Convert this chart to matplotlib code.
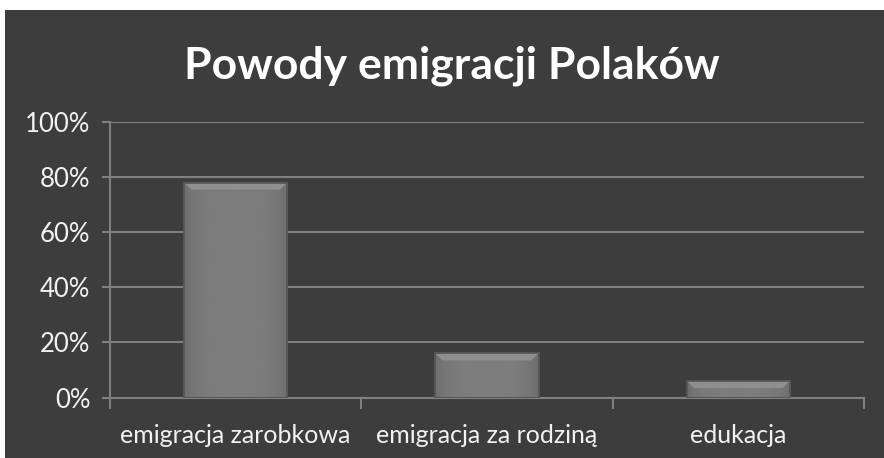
import matplotlib.pyplot as plt
import matplotlib.patches as patches
import numpy as np

# Data
categories = ['emigracja zarobkowa', 'emigracja za rodziną', 'edukacja']
shares = [78, 16, 6]
y_ticks = [0, 20, 40, 60, 80, 100]
y_labels = ['0%', '20%', '40%', '60%', '80%', '100%']

bg = '#3d3d3d'
grid_col = '#808080'
text_col = '#f2f2f2'
plt.rcParams['font.family'] = ['Lato', 'DejaVu Sans']

fig = plt.figure(figsize=(8.84, 4.58), dpi=100, facecolor=bg)
# white strips on top and left like the original screenshot
fig.patches.append(patches.Rectangle((0, 448 / 458), 1, 10 / 458, transform=fig.transFigure,
                                     facecolor='white', edgecolor='none'))
fig.patches.append(patches.Rectangle((0, 0), 5 / 884, 1, transform=fig.transFigure,
                                     facecolor='white', edgecolor='none'))

ax = fig.add_axes([110 / 884, (458 - 397.5) / 458, (864 - 110) / 884, 275.5 / 458])
ax.set_facecolor(bg)
ax.patch.set_alpha(0)

x = np.arange(len(categories))
bars = ax.bar(x, shares, width=0.41, color='#7a7a7a', edgecolor='#555555', linewidth=1.2, zorder=3)

# soft horizontal shading inside each bar (darker near the sides)
grad = np.linspace(-1, 1, 100)
shade = 0.49 - 0.06 * grad ** 4
img = np.tile(shade, (60, 1))
bx = 7 / 251   # bevel size in data units (x)
by = 7 / 2.755  # bevel size in data units (y)
for b in bars:
    x0, w, h = b.get_x(), b.get_width(), b.get_height()
    im = ax.imshow(img, cmap='gray', vmin=0, vmax=1, aspect='auto',
                   extent=(x0, x0 + w, 0, h), zorder=3.5, interpolation='bicubic')
    im.set_clip_path(b)
    # lighter bevel at top
    ax.add_patch(patches.Polygon([(x0, h), (x0 + w, h), (x0 + w - bx, h - by), (x0 + bx, h - by)],
                                 closed=True, facecolor='#8f8f8f', edgecolor='none', zorder=3.6))
    ax.add_patch(patches.Rectangle((x0, 0), w, h, facecolor='none',
                                   edgecolor='#555555', linewidth=1.2, zorder=3.7))

ax.set_xlim(-0.5, 2.5)
ax.set_ylim(0, 100)
ax.set_yticks(y_ticks)
ax.set_yticklabels(y_labels)
ax.yaxis.grid(True, color=grid_col, linewidth=1.5, zorder=1)
ax.set_axisbelow(True)

ax.set_xticks([-0.5, 0.5, 1.5, 2.5])
ax.set_xticklabels([])
ax.set_xticks(x, minor=True)
ax.set_xticklabels(categories, minor=True)
ax.tick_params(axis='x', which='major', length=8, width=1.5, color=grid_col)
ax.tick_params(axis='x', which='minor', length=0, pad=19, labelsize=18, labelcolor=text_col)
ax.tick_params(axis='y', length=6, width=1.5, color=grid_col, pad=8, labelsize=18.5, labelcolor=text_col)

for s in ['top', 'right']:
    ax.spines[s].set_visible(False)
for s in ['left', 'bottom']:
    ax.spines[s].set_color(grid_col)
    ax.spines[s].set_linewidth(1.5)

fig.text(452 / 884, 1 - 66 / 458, 'Powody emigracji Polaków', ha='center', va='center',
         fontsize=32, fontweight='bold', color='white')

fig.savefig('out.png', dpi=100, facecolor=bg)
